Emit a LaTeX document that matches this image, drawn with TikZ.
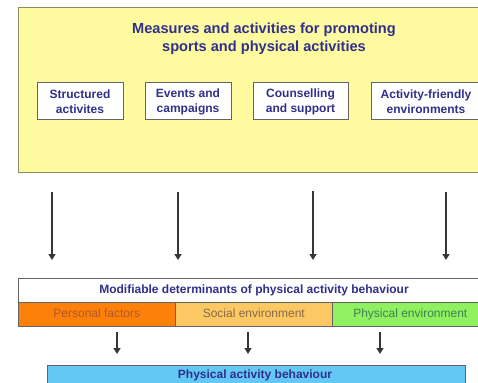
\documentclass[tikz,border=0pt]{standalone}
\usepackage{fontspec}
\setmainfont{Liberation Sans}
\usetikzlibrary{arrows.meta}
\definecolor{navy}{RGB}{48,48,140}
\definecolor{yel}{RGB}{253,250,160}
\definecolor{yelborder}{RGB}{140,140,100}
\definecolor{boxborder}{RGB}{100,100,100}
\definecolor{orng}{RGB}{252,128,10}
\definecolor{lorng}{RGB}{252,200,100}
\definecolor{grn}{RGB}{145,240,95}
\definecolor{blu}{RGB}{100,200,245}
\definecolor{arr}{RGB}{55,55,55}
\definecolor{torng}{RGB}{175,90,40}
\definecolor{tlorng}{RGB}{135,105,70}
\definecolor{tgrn}{RGB}{60,130,80}
\tikzset{
  subbox/.style={draw=boxborder,line width=1pt,fill=white,minimum width=86pt,minimum height=37pt,
    inner sep=0pt,align=center,text=navy,font=\fontsize{12}{15}\selectfont\bfseries},
  seg/.style={draw=boxborder,line width=0.6pt,minimum height=24pt,inner sep=0pt,
    text height=9pt,text depth=2.5pt,font=\fontsize{12}{14}\selectfont},
  bigarrow/.style={draw=arr,line width=1.9pt,-{Triangle[length=6pt,width=7pt]}},
  smallarrow/.style={draw=arr,line width=1.9pt,-{Triangle[length=6pt,width=7pt]}},
}
\begin{document}
\begin{tikzpicture}[x=1pt,y=-1pt]
\useasboundingbox (0,0) rectangle (478,382);
\clip (0,0) rectangle (478,382);
% yellow box
\node[draw=yelborder,line width=0.8pt,fill=yel,minimum width=472pt,minimum height=165pt,inner sep=0pt,anchor=north west] (measures) at (18,7) {};
\node[text=navy,align=center,font=\fontsize{14.6}{18}\selectfont\bfseries] (title) at (264,39) {Measures and activities for promoting\\sports and physical activities};
\node[subbox] (s1) at (80,101.5) {Structured\\activites};
\node[subbox] (s2) at (188,101.5) {Events and\\campaigns};
\node[subbox,minimum width=95pt] (s3) at (300.5,101.5) {Counselling\\and support};
\node[subbox,minimum width=110pt] (s4) at (426,101.5) {Activity-friendly\\environments};
% determinants
\node[draw=boxborder,line width=0.6pt,fill=white,minimum width=472pt,minimum height=24pt,inner sep=0pt,anchor=north west] (det) at (18,278) {};
\node[text=navy,font=\fontsize{12}{14}\selectfont\bfseries] (dettext) at (254,290) {Modifiable determinants of physical activity behaviour};
\node[seg,fill=orng,text=torng,minimum width=157pt,anchor=north west] (pf) at (18,302) {Personal factors};
\node[seg,fill=lorng,text=tlorng,minimum width=157pt,anchor=north west] (se) at (175,302) {Social environment};
\node[seg,fill=grn,text=tgrn,minimum width=156pt,anchor=north west] (pe) at (332,302) {Physical environment};
% behaviour
\node[draw=boxborder,line width=0.8pt,fill=blu,minimum width=418pt,minimum height=34pt,inner sep=0pt,anchor=north west] (beh) at (47,365) {};
\node[text=navy,font=\fontsize{12}{14}\selectfont\bfseries] (behtext) at (255,375.5) {Physical activity behaviour};
% arrow coordinates
\coordinate (a1s) at (52,192); \coordinate (a1e) at (52,260);
\coordinate (a2s) at (178,192); \coordinate (a2e) at (178,260);
\coordinate (a3s) at (313,191); \coordinate (a3e) at (313,260);
\coordinate (a4s) at (446,192); \coordinate (a4e) at (446,260);
\draw[bigarrow] (a1s) -- (a1e);
\draw[bigarrow] (a2s) -- (a2e);
\draw[bigarrow] (a3s) -- (a3e);
\draw[bigarrow] (a4s) -- (a4e);
\coordinate (b1s) at (117,332); \coordinate (b1e) at (117,354);
\coordinate (b2s) at (248,332); \coordinate (b2e) at (248,354);
\coordinate (b3s) at (380,332); \coordinate (b3e) at (380,354);
\draw[smallarrow] (b1s) -- (b1e);
\draw[smallarrow,line width=1.2pt] (b2s) -- (b2e);
\draw[smallarrow] (b3s) -- (b3e);
\end{tikzpicture}
\end{document}
